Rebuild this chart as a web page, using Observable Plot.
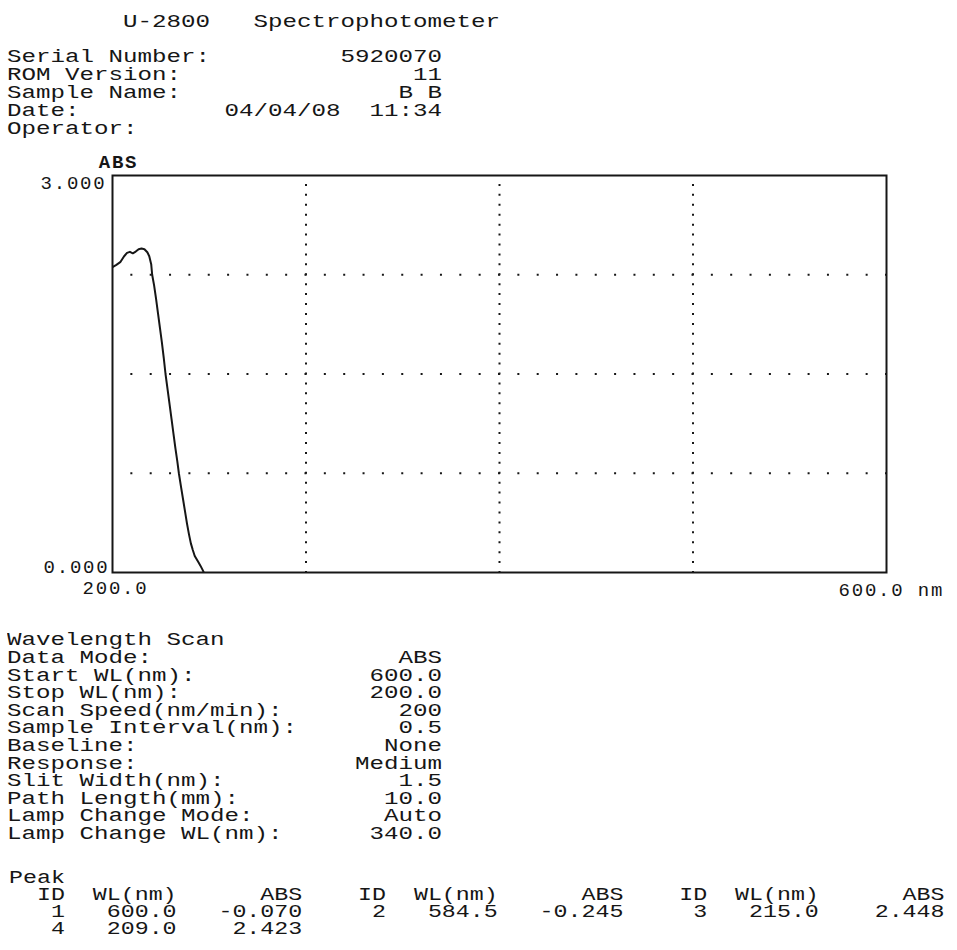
<!DOCTYPE html>
<html><head><meta charset="utf-8">
<script src="https://cdn.jsdelivr.net/npm/d3@7"></script>
<script src="https://cdn.jsdelivr.net/npm/@observablehq/plot@0.6"></script>
<style>
body{margin:0;background:#fff;}
#page{position:relative;width:957px;height:950px;overflow:hidden;background:#fff;color:#161616;}
pre{margin:0;position:absolute;font-family:"Liberation Mono","Courier New",monospace;font-size:19px;transform-origin:0 0;white-space:pre;}
#title{left:7px;top:13px;line-height:18px;transform:scaleX(1.272);}
#info{left:7px;top:47.7px;line-height:18px;transform:scaleX(1.272);}
#scan{left:7px;top:632.4px;line-height:17.6px;transform:scaleX(1.272);}
#peaks{left:9px;top:869.7px;line-height:17.2px;transform:scaleX(1.2246);}
#chart{position:absolute;left:0;top:140px;}
</style></head><body><div id="page">
<pre id="title"></pre><pre id="info"></pre><div id="chart"></div><pre id="scan"></pre><pre id="peaks"></pre>
</div>
<script>
// ---- header data ----
const instrument = "U-2800";
const instrumentType = "Spectrophotometer";
const infoLabels = ["Serial Number:", "ROM Version:", "Sample Name:", "Date:", "Operator:"];
const infoValues = ["5920070", "11", "B B", "04/04/08  11:34", ""];

// ---- scan settings ----
const scanTitle = "Wavelength Scan";
const scanLabels = ["Data Mode:", "Start WL(nm):", "Stop WL(nm):", "Scan Speed(nm/min):", "Sample Interval(nm):", "Baseline:", "Response:", "Slit Width(nm):", "Path Length(mm):", "Lamp Change Mode:", "Lamp Change WL(nm):"];
const scanValues = ["ABS", "600.0", "200.0", "200", "0.5", "None", "Medium", "1.5", "10.0", "Auto", "340.0"];

// ---- peak table ----
const peakTitle = "Peak";
const peakHeader = ["ID", "WL(nm)", "ABS"];
const peakId = [1, 2, 3, 4];
const peakWl = [600.0, 584.5, 215.0, 209.0];
const peakAbs = [-0.070, -0.245, 2.448, 2.423];

// ---- spectrum ----
const wavelength = [200, 202, 204, 206, 207.5, 209, 210.5, 212, 213.5, 215, 216.5, 218, 219, 220, 220.5, 221.5, 222.5, 223.5, 224.5, 225.5, 226.5, 227.4, 228.5, 229.5, 230.5, 231.5, 232.5, 233.5, 234.3, 235.5, 236.5, 237.5, 238.5, 239.5, 240.5, 241.5, 242.5, 243.5, 244.5, 245.5, 246.5, 247.2];
const absorbance = [2.307, 2.325, 2.345, 2.39, 2.415, 2.423, 2.412, 2.425, 2.443, 2.448, 2.443, 2.42, 2.39, 2.33, 2.25, 2.17, 2.07, 1.96, 1.85, 1.74, 1.62, 1.50, 1.38, 1.27, 1.16, 1.05, 0.94, 0.84, 0.75, 0.64, 0.55, 0.46, 0.37, 0.29, 0.22, 0.17, 0.125, 0.10, 0.075, 0.05, 0.022, 0.0];

// ---- axes ----
const xTicks = [200, 600];
const yTicks = [0, 3];
const xGrid = [300, 400, 500];
const yGrid = [0.75, 1.5, 2.25];
const yLabel = "ABS";
const xUnit = "nm";

// ---- text blocks ----
const COLS = 30;
const padLine = (l, v) => l + v.padStart(COLS - l.length);
document.getElementById("title").textContent = " ".repeat(8) + instrument + "   " + instrumentType;
document.getElementById("info").textContent = infoLabels.map((l, i) => padLine(l, infoValues[i])).join("\n");
document.getElementById("scan").textContent = [scanTitle, ...scanLabels.map((l, i) => padLine(l, scanValues[i]))].join("\n");

const hdrGroup = peakHeader[0].padStart(4) + peakHeader[1].padStart(8) + peakHeader[2].padStart(9) + "  ";
const rows = [];
for (let i = 0; i < peakId.length; i += 3) {
  let s = "";
  for (let j = i; j < Math.min(i + 3, peakId.length); j++) {
    s += String(peakId[j]).padStart(4) + peakWl[j].toFixed(1).padStart(8) + peakAbs[j].toFixed(3).padStart(9) + "  ";
  }
  rows.push(s.trimEnd());
}
document.getElementById("peaks").textContent = [peakTitle, (hdrGroup.repeat(3)).trimEnd(), ...rows].join("\n");

// ---- chart ----
const data = wavelength.map((w, i) => ({w, a: absorbance[i]}));
const ink = "#161616";
const chart = Plot.plot({
  width: 957, height: 470,
  marginLeft: 112, marginRight: 71, marginTop: 35, marginBottom: 38,
  x: {domain: [200, 600], axis: null},
  y: {domain: [0, 3], axis: null},
  style: {fontFamily: "'Liberation Mono','Courier New',monospace", fontSize: "19px", color: ink, background: "white", overflow: "visible", letterSpacing: "1.8px"},
  marks: [
    Plot.ruleX(xGrid, {stroke: ink, strokeWidth: 2, strokeDasharray: "2,7.925", strokeDashoffset: 1}),
    Plot.ruleY(yGrid, {stroke: ink, strokeWidth: 2, strokeDasharray: "2,17.35", strokeDashoffset: 1}),
    Plot.line(data, {x: "w", y: "a", stroke: ink, strokeWidth: 2, clip: true}),
    Plot.frame({stroke: ink, strokeWidth: 2}),
    Plot.text([yTicks[1]], {y: d => d, text: d => d.toFixed(3), frameAnchor: "left", textAnchor: "end", lineAnchor: "top", dx: -6, fill: ink}),
    Plot.text([yTicks[0]], {y: d => d, text: d => d.toFixed(3), frameAnchor: "left", textAnchor: "end", lineAnchor: "bottom", dx: -3, fill: ink}),
    Plot.text([yLabel], {text: d => d, frameAnchor: "top-left", textAnchor: "middle", lineAnchor: "bottom", dx: 6, dy: -8, fontWeight: "bold", fill: ink}),
    Plot.text([xTicks[0]], {x: d => d, text: d => d.toFixed(1), frameAnchor: "bottom", textAnchor: "start", lineAnchor: "top", dx: -30, dy: 8, fill: ink}),
    Plot.text([xTicks[1]], {x: d => d, text: d => d.toFixed(1) + " " + xUnit, frameAnchor: "bottom", textAnchor: "start", lineAnchor: "top", dx: -48, dy: 10, fill: ink})
  ]
});
document.getElementById("chart").appendChild(chart);
</script>
</body></html>
